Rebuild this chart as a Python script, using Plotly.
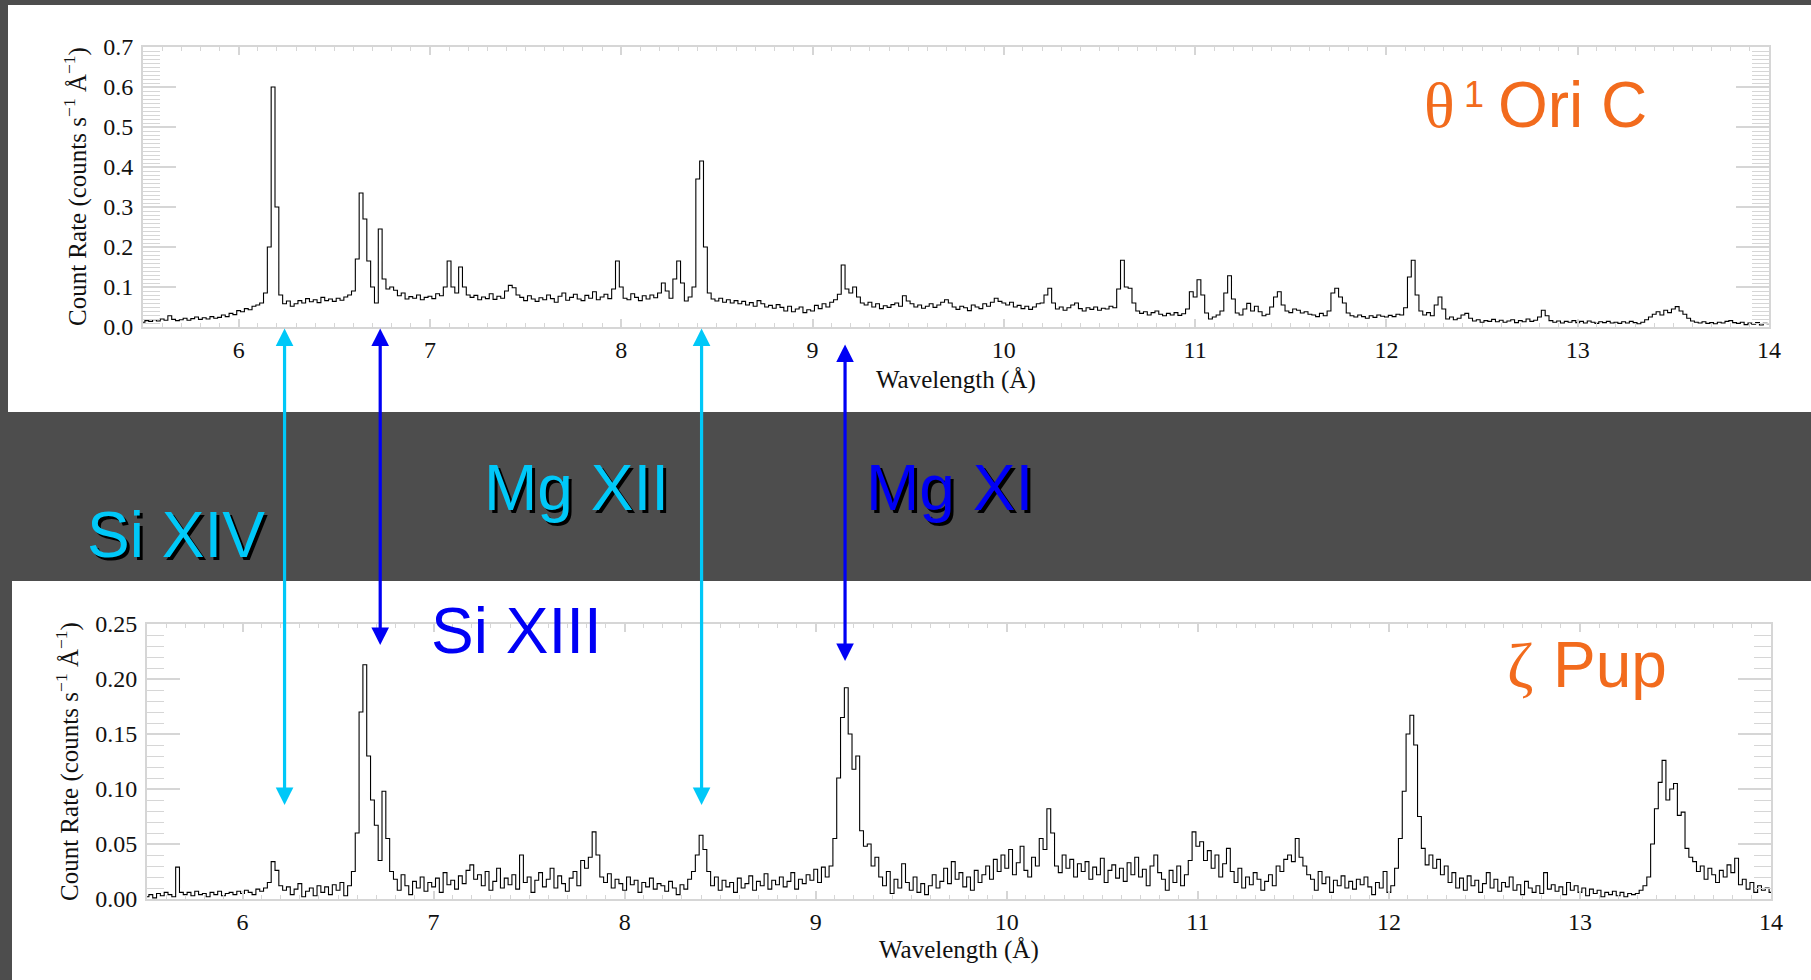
import plotly.graph_objects as go

W, H = 1811, 980

# ---------------- data ----------------
WAVE_START = 5.50
WAVE_STEP = 0.02

# theta1 Ori C count rate (counts s^-1 A^-1), 0.02 A bins from 5.50 to 14.00
ori_rate = [
    0.012, 0.016, 0.014, 0.018, 0.015, 0.020, 0.017, 0.028, 0.019, 0.016,
    0.018, 0.022, 0.017, 0.021, 0.025, 0.019, 0.023, 0.020, 0.026, 0.022,
    0.024, 0.030, 0.026, 0.034, 0.031, 0.041, 0.038, 0.046, 0.043, 0.052,
    0.055, 0.060, 0.085, 0.200, 0.600, 0.300, 0.080, 0.058, 0.065, 0.052,
    0.058, 0.066, 0.060, 0.071, 0.063, 0.068, 0.061, 0.074, 0.066, 0.070,
    0.064, 0.072, 0.067, 0.075, 0.080,
    0.090, 0.170, 0.335, 0.270, 0.165, 0.100, 0.060, 0.245, 0.120, 0.095,
    0.100, 0.092, 0.078, 0.085, 0.070, 0.076, 0.072, 0.080, 0.068, 0.074,
    0.077, 0.071, 0.083, 0.078, 0.100, 0.165, 0.100, 0.085, 0.150, 0.100,
    0.080, 0.074, 0.079, 0.068, 0.075, 0.071, 0.083, 0.069, 0.077, 0.072,
    0.090, 0.104, 0.098, 0.080, 0.074, 0.066, 0.078, 0.070, 0.064, 0.073,
    0.068, 0.080, 0.071, 0.062, 0.077, 0.085, 0.067, 0.074, 0.082, 0.070,
    0.066, 0.079, 0.072, 0.088, 0.068, 0.075, 0.082, 0.071, 0.095, 0.165,
    0.100, 0.072, 0.068, 0.083, 0.074, 0.066, 0.078, 0.070, 0.080, 0.073,
    0.085, 0.110, 0.090, 0.072, 0.120, 0.165, 0.110, 0.065, 0.075, 0.100,
    0.370, 0.415, 0.200, 0.085, 0.070, 0.065, 0.072, 0.062, 0.068, 0.060,
    0.066, 0.058, 0.064, 0.055, 0.061, 0.052, 0.066, 0.058, 0.050, 0.054,
    0.047, 0.056, 0.049, 0.040, 0.052, 0.038, 0.045, 0.050, 0.036, 0.043,
    0.040, 0.054, 0.046, 0.058, 0.050, 0.062, 0.068, 0.082, 0.155, 0.095,
    0.085, 0.100, 0.075, 0.060, 0.055, 0.062, 0.050, 0.058, 0.046, 0.053,
    0.049, 0.056, 0.060, 0.052, 0.078, 0.065, 0.058, 0.050, 0.055, 0.047,
    0.052, 0.058, 0.049, 0.055, 0.062, 0.068, 0.060, 0.050, 0.044, 0.052,
    0.048, 0.041, 0.055, 0.050, 0.046, 0.058, 0.052, 0.062, 0.072, 0.064,
    0.060, 0.055, 0.062, 0.050, 0.054, 0.046, 0.052, 0.044, 0.050, 0.058,
    0.060, 0.080, 0.097, 0.060, 0.045, 0.050, 0.042, 0.048, 0.055, 0.060,
    0.046, 0.040, 0.048, 0.044, 0.050, 0.042, 0.047, 0.045, 0.052, 0.048,
    0.095, 0.167, 0.100, 0.097, 0.060, 0.040, 0.034, 0.038, 0.030, 0.036,
    0.040, 0.032, 0.028, 0.034, 0.030, 0.036, 0.029, 0.033, 0.045, 0.088,
    0.075, 0.118, 0.080, 0.035, 0.020, 0.025, 0.030, 0.040, 0.085, 0.128,
    0.070, 0.035, 0.030, 0.045, 0.059, 0.040, 0.052, 0.038, 0.028, 0.032,
    0.050, 0.075, 0.088, 0.055, 0.040, 0.036, 0.045, 0.042, 0.035, 0.038,
    0.032, 0.030, 0.026, 0.034, 0.028, 0.040, 0.085, 0.097, 0.075, 0.060,
    0.035, 0.028, 0.025, 0.030, 0.026, 0.022, 0.028, 0.024, 0.030, 0.027,
    0.025, 0.029, 0.026, 0.032, 0.030, 0.048, 0.125, 0.167, 0.080, 0.040,
    0.030, 0.036, 0.028, 0.055, 0.075, 0.045, 0.020, 0.025, 0.018, 0.022,
    0.030, 0.034, 0.022, 0.015, 0.018, 0.012, 0.016, 0.014, 0.019, 0.013,
    0.017, 0.012, 0.015, 0.018, 0.011, 0.016, 0.013, 0.020, 0.014, 0.017,
    0.025, 0.042, 0.028, 0.016, 0.012, 0.015, 0.010, 0.014, 0.012, 0.016,
    0.011, 0.014, 0.010, 0.015, 0.012, 0.009, 0.013, 0.011, 0.014, 0.010,
    0.012, 0.009, 0.013, 0.010, 0.014, 0.011, 0.008, 0.012, 0.018, 0.025,
    0.032, 0.038, 0.030, 0.042, 0.036, 0.045, 0.051, 0.040, 0.032, 0.022,
    0.015, 0.012, 0.010, 0.013, 0.009, 0.011, 0.008, 0.012, 0.010, 0.014,
    0.016, 0.011, 0.009, 0.012, 0.006, 0.010, 0.007, 0.011, 0.005, 0.009,
    0.008,
]

# zeta Pup count rate (counts s^-1 A^-1), same bins
pup_rate = [
    0.002, 0.004, 0.001, 0.005, 0.003, 0.006, 0.004, 0.002, 0.029, 0.006,
    0.004, 0.006, 0.003, 0.007, 0.004, 0.005, 0.002, 0.006, 0.004, 0.007,
    0.003, 0.005, 0.006, 0.004, 0.007, 0.005, 0.008, 0.006, 0.004, 0.009,
    0.007, 0.010, 0.015, 0.034, 0.026, 0.012, 0.008, 0.011, 0.004, 0.009,
    0.014, 0.002, 0.007, 0.010, 0.003, 0.012, 0.006, 0.011, 0.004, 0.013,
    0.008, 0.015, 0.003, 0.012, 0.025,
    0.060, 0.170, 0.213, 0.130, 0.090, 0.067, 0.035, 0.098, 0.055, 0.025,
    0.018, 0.008, 0.022, 0.012, 0.004, 0.016, 0.010, 0.020, 0.007, 0.015,
    0.011, 0.019, 0.006, 0.024, 0.013, 0.017, 0.009, 0.021, 0.014, 0.026,
    0.031, 0.018, 0.022, 0.012, 0.025, 0.008, 0.016, 0.028, 0.010, 0.019,
    0.013, 0.022, 0.009, 0.040, 0.015, 0.020, 0.006, 0.017, 0.024, 0.011,
    0.018, 0.028, 0.010, 0.021, 0.014, 0.007, 0.019, 0.025, 0.012, 0.035,
    0.028, 0.038, 0.061, 0.040, 0.020, 0.015, 0.023, 0.010, 0.018, 0.014,
    0.008, 0.020, 0.013, 0.017, 0.006, 0.015, 0.011, 0.019, 0.009, 0.014,
    0.012, 0.007, 0.016, 0.010, 0.004, 0.013, 0.009, 0.018, 0.025, 0.040,
    0.058, 0.045, 0.025, 0.012, 0.020, 0.008, 0.017, 0.011, 0.015, 0.006,
    0.019, 0.010, 0.014, 0.021, 0.008, 0.016, 0.012, 0.023, 0.009, 0.017,
    0.013, 0.020, 0.011, 0.016, 0.024, 0.009, 0.018, 0.014, 0.022, 0.017,
    0.027, 0.015, 0.029, 0.020, 0.030, 0.055, 0.110, 0.165, 0.192, 0.150,
    0.118, 0.130, 0.062, 0.048, 0.050, 0.030, 0.038, 0.020, 0.012, 0.025,
    0.005, 0.018, 0.010, 0.032, 0.015, 0.008, 0.020, 0.006, 0.014, 0.004,
    0.012, 0.022, 0.010, 0.016, 0.028, 0.014, 0.034, 0.018, 0.024, 0.011,
    0.020, 0.008, 0.026, 0.015, 0.022, 0.030, 0.018, 0.036, 0.025, 0.040,
    0.028, 0.045, 0.022, 0.033, 0.048, 0.026, 0.020, 0.038, 0.030, 0.055,
    0.045, 0.082, 0.060, 0.030, 0.024, 0.040, 0.028, 0.036, 0.020, 0.032,
    0.025, 0.034, 0.018, 0.029, 0.022, 0.037, 0.015, 0.026, 0.031, 0.019,
    0.028, 0.016, 0.033, 0.022, 0.038, 0.020, 0.027, 0.012, 0.030, 0.040,
    0.024, 0.018, 0.008, 0.026, 0.015, 0.030, 0.012, 0.022, 0.035, 0.061,
    0.048, 0.052, 0.035, 0.044, 0.028, 0.040, 0.020, 0.032, 0.046, 0.025,
    0.015, 0.028, 0.010, 0.020, 0.013, 0.024, 0.018, 0.008, 0.016, 0.022,
    0.012, 0.030, 0.025, 0.036, 0.040, 0.034, 0.055, 0.038, 0.030, 0.022,
    0.018, 0.008, 0.025, 0.014, 0.020, 0.006, 0.017, 0.012, 0.021, 0.010,
    0.016, 0.009, 0.018, 0.013, 0.020, 0.011, 0.004, 0.015, 0.010, 0.025,
    0.006, 0.012, 0.028, 0.055, 0.098, 0.150, 0.167, 0.140, 0.075, 0.046,
    0.031, 0.040, 0.028, 0.036, 0.022, 0.030, 0.015, 0.024, 0.010, 0.019,
    0.008, 0.021, 0.012, 0.017, 0.006, 0.014, 0.024, 0.010, 0.018, 0.007,
    0.015, 0.011, 0.020, 0.008, 0.013, 0.004, 0.016, 0.010, 0.006, 0.012,
    0.005, 0.024, 0.009, 0.013, 0.007, 0.011, 0.004, 0.015, 0.008, 0.012,
    0.006, 0.010, 0.003, 0.009, 0.005, 0.008, 0.002, 0.006, 0.004, 0.007,
    0.003, 0.006, 0.002, 0.005, 0.004, 0.005, 0.008, 0.012, 0.020, 0.050,
    0.082, 0.106, 0.126, 0.090, 0.100, 0.105, 0.076, 0.079, 0.046, 0.038,
    0.034, 0.025, 0.030, 0.018, 0.028, 0.022, 0.015, 0.026, 0.020, 0.031,
    0.024, 0.037, 0.013, 0.018, 0.009, 0.015, 0.006, 0.012, 0.008, 0.010,
    0.006,
]

wave = [round(WAVE_START + WAVE_STEP * i, 2) for i in range(len(ori_rate))]

x_tick_vals = [6, 7, 8, 9, 10, 11, 12, 13, 14]
x_tick_text = ["6", "7", "8", "9", "10", "11", "12", "13", "14"]
top_y_ticks = [0.0, 0.1, 0.2, 0.3, 0.4, 0.5, 0.6, 0.7]
top_y_text = ["0.0", "0.1", "0.2", "0.3", "0.4", "0.5", "0.6", "0.7"]
bot_y_ticks = [0.00, 0.05, 0.10, 0.15, 0.20, 0.25]
bot_y_text = ["0.00", "0.05", "0.10", "0.15", "0.20", "0.25"]

line_names = ["Si XIV", "Si XIII", "Mg XII", "Mg XI"]
line_waves = [6.24, 6.74, 8.42, 9.17]

# ---------------- styling ----------------
BG = "#4d4d4d"
FRAME = "#d6d6d6"
CYAN = "#00C8F8"
BLUE = "#0000F5"
ORANGE = "#F26B1D"
SERIF = "Liberation Serif"
SANS = "Liberation Sans"


def px(x):
    return x / W


def py(y):
    return 1 - y / H


fig = go.Figure()
fig.add_trace(go.Scatter(x=wave, y=ori_rate, mode="lines",
                         line=dict(color="black", width=1.1, shape="hvh"),
                         xaxis="x", yaxis="y", showlegend=False, hoverinfo="skip"))
fig.add_trace(go.Scatter(x=wave, y=pup_rate, mode="lines",
                         line=dict(color="black", width=1.1, shape="hvh"),
                         xaxis="x2", yaxis="y2", showlegend=False, hoverinfo="skip"))


def xaxis_style(domain, anchor):
    return dict(domain=domain, anchor=anchor, range=[5.5, 14], automargin=False,
                tickmode="array", tickvals=x_tick_vals, ticktext=x_tick_text,
                ticks="inside", ticklen=8, tickwidth=1.5, tickcolor=FRAME,
                minor=dict(tickmode="linear", tick0=5.5, dtick=0.1, ticks="inside",
                           ticklen=4, tickwidth=1, tickcolor=FRAME),
                showline=True, linecolor=FRAME, linewidth=2, mirror="allticks",
                showgrid=False, zeroline=False, ticklabelstandoff=0,
                tickfont=dict(family=SERIF, size=24, color="#111111"))


def yaxis_style(domain, anchor, rng, vals, text):
    return dict(domain=domain, anchor=anchor, range=rng, automargin=False,
                tickmode="array", tickvals=vals, ticktext=text,
                ticks="inside", ticklen=33, tickwidth=1.5, tickcolor=FRAME,
                minor=dict(tickmode="linear", tick0=0, dtick=0.01, ticks="inside",
                           ticklen=17, tickwidth=1, tickcolor=FRAME),
                showline=True, linecolor=FRAME, linewidth=2, mirror="allticks",
                showgrid=False, zeroline=False, ticklabelstandoff=3,
                tickfont=dict(family=SERIF, size=24, color="#111111"))


fig.update_layout(
    width=W, height=H, autosize=False,
    margin=dict(l=0, r=0, t=0, b=0, pad=0, autoexpand=False),
    paper_bgcolor=BG, plot_bgcolor="white",
    showlegend=False,
    xaxis=xaxis_style([px(143), px(1769)], "y"),
    yaxis=yaxis_style([py(327), py(47)], "x", [0, 0.7], top_y_ticks, top_y_text),
    xaxis2=xaxis_style([px(147), px(1771)], "y2"),
    yaxis2=yaxis_style([py(899), py(624)], "x2", [0, 0.25], bot_y_ticks, bot_y_text),
)

# white panels
fig.add_shape(type="rect", xref="paper", yref="paper", x0=px(8), x1=1, y0=py(412), y1=py(5),
              fillcolor="white", line=dict(width=0), layer="below")
fig.add_shape(type="rect", xref="paper", yref="paper", x0=px(12), x1=1, y0=0, y1=py(581),
              fillcolor="white", line=dict(width=0), layer="below")

ytitle = "Count Rate (counts s<sup>\u22121</sup> \u00c5<sup>\u22121</sup>)"
for (xc, yc) in [(76, 187), (67, 762)]:
    fig.add_annotation(x=px(xc), y=py(yc), xref="paper", yref="paper", text=ytitle,
                       textangle=-90, showarrow=False, xanchor="center", yanchor="middle",
                       font=dict(family=SERIF, size=25, color="#111111"))
for (xc, yc) in [(956, 380), (959, 950)]:
    fig.add_annotation(x=px(xc), y=py(yc), xref="paper", yref="paper", text="Wavelength (\u00c5)",
                       showarrow=False, xanchor="center", yanchor="middle",
                       font=dict(family=SERIF, size=25, color="#111111"))

# star names: pieces placed on a common baseline
star_parts = [
    ("\u03b8", SERIF, 64, 1423, 105.1),
    ("1", SANS, 36, 1463, 94.0),
    ("Ori C", SANS, 64, 1497, 104.5),
    ("\u03b6", SERIF, 64, 1506, 665.4),
    ("Pup", SANS, 64, 1552, 664.8),
]
for txt, fam, size, xl, yc in star_parts:
    fig.add_annotation(x=px(xl), y=py(yc), xref="paper", yref="paper", text=txt,
                       showarrow=False, xanchor="left", yanchor="middle",
                       borderpad=0, font=dict(family=fam, size=size, color=ORANGE))

# arrows marking lines (top tip, bottom tip in pixels)
arrow_top = [327, 327, 327, 343]
arrow_bot = [805, 645, 805, 661]
arrow_col = [CYAN, BLUE, CYAN, BLUE]
for lam, yt, yb, col in zip(line_waves, arrow_top, arrow_bot, arrow_col):
    fig.add_annotation(x=lam, y=py(yb), xref="x", yref="paper",
                       ax=0, ay=yt - yb, axref="pixel", ayref="pixel",
                       text="", showarrow=True, arrowhead=2, startarrowhead=2,
                       arrowside="end+start", arrowsize=1.1, startarrowsize=1.1,
                       arrowwidth=3.2, arrowcolor=col, standoff=0, startstandoff=0)

# line labels (with drop shadow on the dark band)
label_pos = {"Si XIV": (175.5, 535.1), "Si XIII": (516.4, 630.8),
             "Mg XII": (576, 487.8), "Mg XI": (950, 487.8)}
label_col = {"Si XIV": CYAN, "Si XIII": BLUE, "Mg XII": CYAN, "Mg XI": BLUE}
label_shadow = {"Si XIV": True, "Si XIII": False, "Mg XII": True, "Mg XI": True}
for name in line_names:
    xc, yc = label_pos[name]
    if label_shadow[name]:
        fig.add_annotation(x=px(xc), y=py(yc), xref="paper", yref="paper", text=name,
                           showarrow=False, xanchor="center", yanchor="middle",
                           xshift=3, yshift=-3, borderpad=0,
                           font=dict(family=SANS, size=64, color="black"))
    fig.add_annotation(x=px(xc), y=py(yc), xref="paper", yref="paper", text=name,
                       showarrow=False, xanchor="center", yanchor="middle", borderpad=0,
                       font=dict(family=SANS, size=64, color=label_col[name]))

fig.write_html("out.html")
